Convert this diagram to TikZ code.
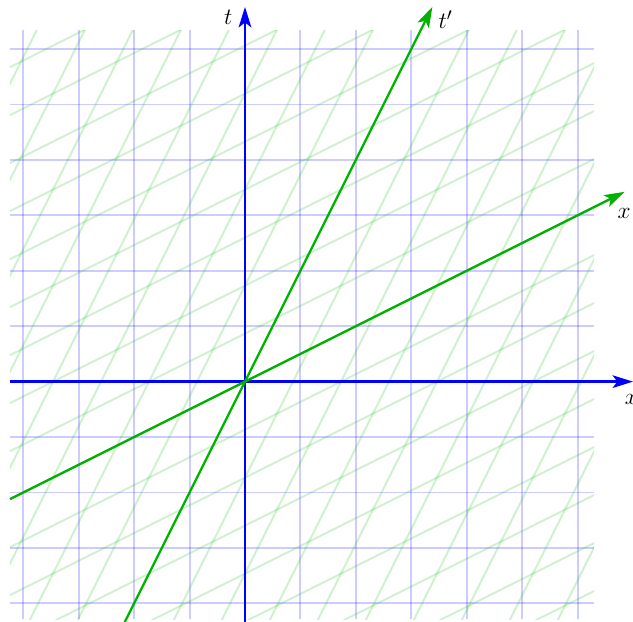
\documentclass[tikz,border=0pt]{standalone}
\usetikzlibrary{arrows.meta}
\definecolor{axgreen}{rgb}{0,0.7,0}
\begin{document}
\begin{tikzpicture}[
  gridblue/.style={blue, opacity=0.2, line width=1pt},
  gridgreen/.style={axgreen, opacity=0.19, line width=1pt},
  axtip/.style={-{Stealth[length=10.5pt,width=6.5pt,inset=2.5pt]}},
  axisblue/.style={blue, line width=1.2pt, axtip},
  axisgreen/.style={axgreen, line width=1.2pt, axtip},
  lbl/.style={font=\fontsize{13}{15}\selectfont, inner sep=0pt}
]
\useasboundingbox (-4.42,-4.335) rectangle (7.0,6.885);
% blue grid
\foreach \n in {-4,...,6} {
  \draw[gridblue] (\n,-4.29) -- (\n,6.34);
  \draw[gridblue] (-4.24,\n) -- (6.3,\n);
}
% green (boosted) grid
\begin{scope}
  \clip (-4.24,-4.29) rectangle (6.3,6.34);
  \begin{scope}[cm={1.1547,0.57735,0.57735,1.1547,(0,0)}]
    \foreach \n in {-10,...,10} {
      \draw[gridgreen] (\n,-10) -- (\n,10);
      \draw[gridgreen] (-10,\n) -- (10,\n);
    }
  \end{scope}
\end{scope}
% axes
\coordinate (tB) at (0,-4.34);
\coordinate (tT) at (0,6.76);
\coordinate (xL) at (-4.24,0);
\coordinate (xR) at (7.0,0);
\coordinate (tpB) at (-2.17,-4.34);
\coordinate (tpT) at (3.38,6.76);
\coordinate (xpL) at (-4.24,-2.12);
\coordinate (xpR) at (6.85,3.425);
\draw[axisblue] (tB) -- (tT);
\draw[axisblue] (xL) -- (xR);
\draw[axisgreen] (tpB) -- (tpT);
\draw[axisgreen] (xpL) -- (xpR);
% labels
\node[lbl] (lt) at (-0.30,6.57) {$t$};
\node[lbl] (ltp) at (3.62,6.53) {$t'$};
\node[lbl] (lxp) at (6.84,3.04) {$x$};
\node[lbl] (lx) at (6.97,-0.33) {$x$};
\end{tikzpicture}
\end{document}
